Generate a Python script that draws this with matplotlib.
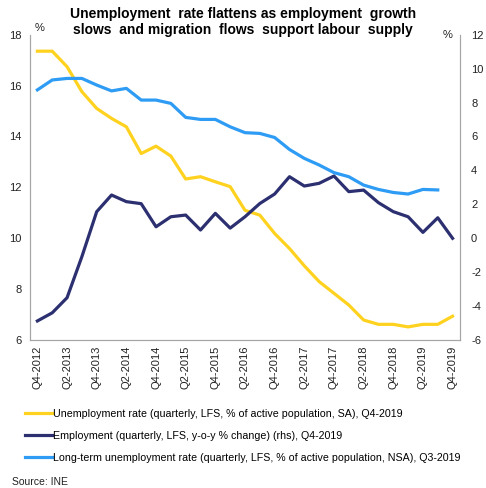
import numpy as np
import matplotlib.pyplot as plt

plt.rcParams['font.family'] = ['Liberation Sans', 'DejaVu Sans']
plt.rcParams['axes.unicode_minus'] = False

# quarters Q4-2012 .. Q4-2019
quarters = ['Q4-2012', 'Q1-2013', 'Q2-2013', 'Q3-2013', 'Q4-2013', 'Q1-2014', 'Q2-2014', 'Q3-2014',
            'Q4-2014', 'Q1-2015', 'Q2-2015', 'Q3-2015', 'Q4-2015', 'Q1-2016', 'Q2-2016', 'Q3-2016',
            'Q4-2016', 'Q1-2017', 'Q2-2017', 'Q3-2017', 'Q4-2017', 'Q1-2018', 'Q2-2018', 'Q3-2018',
            'Q4-2018', 'Q1-2019', 'Q2-2019', 'Q3-2019', 'Q4-2019']

unemployment = [17.35, 17.35, 16.74, 15.76, 15.1, 14.71, 14.38, 13.33,
                13.62, 13.23, 12.33, 12.42, 12.22, 12.03, 11.1, 10.91,
                10.19, 9.6, 8.92, 8.3, 7.84, 7.38, 6.79, 6.62,
                6.62, 6.52, 6.62, 6.62, 6.94]

employment = [-4.87, -4.39, -3.5, -1.08, 1.57, 2.55, 2.16, 2.04,
              0.68, 1.27, 1.37, 0.49, 1.47, 0.6, 1.27, 2.05,
              2.61, 3.63, 3.08, 3.24, 3.67, 2.75, 2.84, 2.1,
              1.57, 1.27, 0.35, 1.21, 0.0]

long_term = [15.83, 16.22, 16.28, 16.28, 16.02, 15.79, 15.89, 15.43,
             15.43, 15.3, 14.75, 14.67, 14.67, 14.38, 14.15, 14.12,
             13.96, 13.49, 13.14, 12.88, 12.58, 12.42, 12.09, 11.92,
             11.8, 11.74, 11.92, 11.9]

yellow = '#FFD21F'
navy = '#2C3070'
blue = '#2E9CF4'
grey = '#A6A6A6'

fig = plt.figure(figsize=(4.86, 4.88), dpi=100)
ax = fig.add_axes([0.0617, 0.303, 0.8848, 0.626])
ax2 = ax.twinx()

x = np.arange(len(quarters))
l1, = ax.plot(x, unemployment, color=yellow, lw=2.3, solid_joinstyle='round')
l3, = ax.plot(np.arange(len(long_term)), long_term, color=blue, lw=2.3, solid_joinstyle='round')
l2, = ax2.plot(x, employment, color=navy, lw=2.3, solid_joinstyle='round')

ax.set_xlim(-0.5, len(quarters) - 0.5)
ax.set_ylim(6, 18)
ax2.set_ylim(-6, 12)
ax.set_yticks(np.arange(6, 19, 2))
ax2.set_yticks(np.arange(-6, 13, 2))
ax.set_xticks(x[::2])
ax.set_xticklabels(quarters[::2], rotation=90, fontsize=7.5)

for a in (ax, ax2):
    a.spines['top'].set_visible(False)
    for s in ('left', 'right', 'bottom'):
        a.spines[s].set_color(grey)
        a.spines[s].set_linewidth(0.8)
    a.tick_params(length=0, labelsize=8, colors='#222222', pad=6)
ax.tick_params(axis='x', pad=4)
ax2.tick_params(axis='y', pad=8)

fig.text(40 / 486, 1 - 28 / 488, '%', fontsize=8, ha='center', va='center', color='#222222')
fig.text(448 / 486, 1 - 35 / 488, '%', fontsize=8, ha='center', va='center', color='#222222')

fig.text(0.5, 1 - 22 / 488,
         'Unemployment  rate flattens as employment  growth\nslows  and migration  flows  support labour  supply',
         ha='center', va='center', fontsize=10, fontweight='bold', linespacing=1.15)

fig.legend([l1, l2, l3],
           ['Unemployment rate (quarterly, LFS, % of active population, SA), Q4-2019',
            'Employment (quarterly, LFS, y-o-y % change) (rhs), Q4-2019',
            'Long-term unemployment rate (quarterly, LFS, % of active population, NSA), Q3-2019'],
           loc='upper left', bbox_to_anchor=(25 / 486, 1 - 409 / 488), frameon=False,
           fontsize=7.7, handlelength=2.55, handletextpad=0.1, labelspacing=1.12,
           borderaxespad=0, borderpad=0)

fig.text(12 / 486, 1 - 482 / 488, 'Source: INE', fontsize=7.5, ha='left', va='center', color='#222222')

fig.savefig('out.png', dpi=100)
